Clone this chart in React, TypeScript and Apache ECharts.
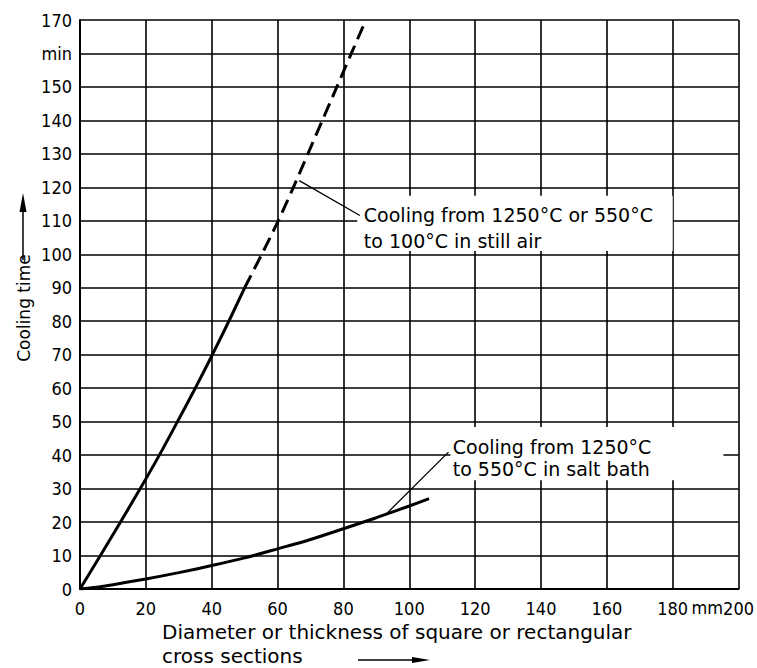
import React, { useEffect, useRef } from "react";
import * as echarts from "echarts";

// Still air curve (solid part, then dashed extrapolation)
const airSolidX = [0, 6.2, 12.3, 18.3, 24.1, 29.6, 35, 40.2, 45.2, 50];
const airSolidY = [0, 10, 20, 30, 40, 50, 60, 70, 80, 90];
const airDashX = [50, 55.2, 60.2, 64.8, 69.2, 73.6, 78, 82.4, 86.8];
const airDashY = [90, 100, 110, 120, 130, 140, 150, 160, 170];
// Salt bath curve
const saltX = [0, 5, 10, 20, 30, 40, 50, 60, 70, 80, 90, 100, 106];
const saltY = [0, 0.5, 1.3, 3, 4.9, 7, 9.3, 12, 14.8, 18, 21.3, 24.8, 27];

const xTicks = [0, 20, 40, 60, 80, 100, 120, 140, 160, 180, 200];
const yTicks = [0, 10, 20, 30, 40, 50, 60, 70, 80, 90, 100, 110, 120, 130, 140, 150, 160, 170];
const xUnit = "mm";
const xUnitAt = 190.5;

const airLabel = "Cooling from 1250°C or 550°C\nto 100°C in still air";
const saltLabel = "Cooling from 1250°C\nto 550°C in salt bath";
const xName1 = "Diameter or thickness of square or rectangular";
const xName2 = "cross sections";
const yName = "Cooling time";

// annotation anchors (data coordinates)
const airLeaderFrom = [66.6, 122];
const airLeaderTo = [85, 111.6];
const airTextAt = [86.2, 115.6];
const airBox = [84.2, 117.5, 180, 101];
const saltLeaderFrom = [93, 22.4];
const saltLeaderTo = [111.9, 40.9];
const saltTextAt = [113.2, 45.6];
const saltBox = [112.5, 48.4, 195.4, 32.5];

const zip = (xs: number[], ys: number[]) => xs.map((x, i) => [x, ys[i]]);

export default function App() {
  const ref = useRef<HTMLDivElement>(null);
  useEffect(() => {
    if (!ref.current) return;
    const chart = echarts.init(ref.current, null, { renderer: "svg" });
    const tickFont = "'DejaVu Sans Condensed', 'DejaVu Sans', sans-serif";
    const textFont = "'DejaVu Sans', sans-serif";
    chart.setOption({
      animation: false,
      backgroundColor: "#ffffff",
      grid: { left: 80, top: 20, width: 659, height: 569, containLabel: false },
      xAxis: {
        type: "value",
        min: 0,
        max: 200,
        interval: 20,
        axisLine: { show: true, lineStyle: { color: "#000", width: 2 } },
        axisTick: { show: false },
        splitLine: { show: true, lineStyle: { color: "#000", width: 1.6 } },
        axisLabel: {
          color: "#000",
          fontFamily: tickFont,
          fontSize: 18,
          margin: 10,
          formatter: (v: number) => (xTicks.includes(v) ? String(v) : ""),
        },
      },
      yAxis: {
        type: "value",
        min: 0,
        max: 170,
        interval: 10,
        axisLine: { show: true, lineStyle: { color: "#000", width: 2 } },
        axisTick: { show: false },
        splitLine: { show: true, lineStyle: { color: "#000", width: 1.6 } },
        axisLabel: {
          color: "#000",
          fontFamily: tickFont,
          fontSize: 18,
          margin: 8,
          formatter: (v: number) => (v === 160 ? "min" : yTicks.includes(v) ? String(v) : ""),
        },
      },
      series: [
        {
          type: "line",
          data: zip(airSolidX, airSolidY),
          smooth: 0.3,
          symbol: "none",
          lineStyle: { color: "#000", width: 3 },
        },
        {
          type: "line",
          data: zip(airDashX, airDashY),
          smooth: 0.3,
          symbol: "none",
          lineStyle: { color: "#000", width: 3, type: [14, 7] },
        },
        {
          type: "line",
          data: zip(saltX, saltY),
          smooth: 0.3,
          symbol: "none",
          lineStyle: { color: "#000", width: 3 },
        },
      ],
    });

    const px = (p: number[]) => chart.convertToPixel({ gridIndex: 0 }, p) as number[];
    const box = (b: number[]) => {
      const a = px([b[0], b[1]]);
      const c = px([b[2], b[3]]);
      return { x: a[0], y: a[1], width: c[0] - a[0], height: c[1] - a[1] };
    };
    const aF = px(airLeaderFrom), aT = px(airLeaderTo), aX = px(airTextAt);
    const sF = px(saltLeaderFrom), sT = px(saltLeaderTo), sX = px(saltTextAt);
    const uX = px([xUnitAt, 0]);
    chart.setOption({
      graphic: [
        { type: "rect", shape: box(airBox), style: { fill: "#fff" }, z: 10 },
        { type: "rect", shape: box(saltBox), style: { fill: "#fff" }, z: 10 },
        {
          type: "line",
          shape: { x1: aF[0], y1: aF[1], x2: aT[0], y2: aT[1] },
          style: { stroke: "#000", lineWidth: 1.3 },
          z: 11,
        },
        {
          type: "line",
          shape: { x1: sF[0], y1: sF[1], x2: sT[0], y2: sT[1] },
          style: { stroke: "#000", lineWidth: 1.3 },
          z: 11,
        },
        {
          type: "text",
          x: aX[0],
          y: aX[1],
          z: 12,
          style: { text: airLabel, fill: "#000", font: `19px ${textFont}`, lineHeight: 26 },
        },
        {
          type: "text",
          x: sX[0],
          y: sX[1],
          z: 12,
          style: { text: saltLabel, fill: "#000", font: `19px ${textFont}`, lineHeight: 22 },
        },
        {
          type: "text",
          x: uX[0],
          y: uX[1] + 18,
          z: 12,
          style: {
            text: xUnit,
            fill: "#000",
            font: `18px ${tickFont}`,
            align: "center",
            verticalAlign: "middle",
          },
        },
        {
          type: "text",
          x: 162,
          y: 622,
          z: 12,
          style: { text: xName1, fill: "#000", font: `20px ${textFont}` },
        },
        {
          type: "text",
          x: 162,
          y: 646,
          z: 12,
          style: { text: xName2, fill: "#000", font: `20px ${textFont}` },
        },
        {
          type: "line",
          shape: { x1: 358, y1: 660, x2: 420, y2: 660 },
          style: { stroke: "#000", lineWidth: 1.5 },
        },
        {
          type: "polygon",
          shape: { points: [[412, 657], [430, 660], [412, 663]] },
          style: { fill: "#000" },
        },
        {
          type: "text",
          x: 24,
          y: 308,
          rotation: Math.PI / 2,
          z: 12,
          style: {
            text: yName,
            fill: "#000",
            font: `17px ${textFont}`,
            align: "center",
            verticalAlign: "middle",
          },
        },
        {
          type: "line",
          shape: { x1: 23, y1: 260, x2: 23, y2: 204 },
          style: { stroke: "#000", lineWidth: 1.5 },
        },
        {
          type: "polygon",
          shape: { points: [[19.5, 212], [23, 193], [26.5, 212]] },
          style: { fill: "#000" },
        },
      ],
    });
    return () => chart.dispose();
  }, []);
  return (
    <div
      ref={ref}
      style={{ position: "absolute", left: 0, top: 0, width: 757, height: 668 }}
    />
  );
}
